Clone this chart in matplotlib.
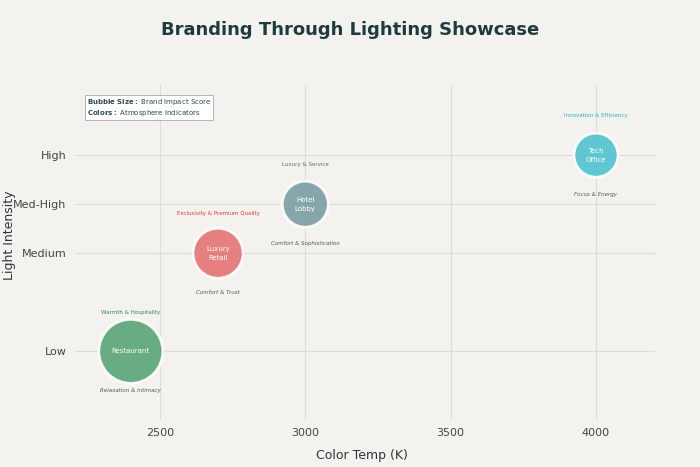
import matplotlib.pyplot as plt

names = ['Restaurant', 'Luxury\nRetail', 'Hotel\nLobby', 'Tech\nOffice']
color_temp = [2400, 2700, 3000, 4000]
intensity = [1, 3, 4, 5]
impact = [32, 25, 23, 22]  # bubble radius in px
colors = ['#5aa578', '#e57373', '#7b9ea4', '#4fc3cf']
top_labels = ['Warmth & Hospitality', 'Exclusivity & Premium Quality', 'Luxury & Service', 'Innovation & Efficiency']
top_colors = ['#2e8b57', '#e53935', '#546e7a', '#26b5c6']
bottom_labels = ['Relaxation & Intimacy', 'Comfort & Trust', 'Comfort & Sophistication', 'Focus & Energy']
ytick_vals = [1, 3, 4, 5]
ytick_labels = ['Low', 'Medium', 'Med-High', 'High']

bg = '#f3f2ee'
fig = plt.figure(figsize=(7, 4.67), dpi=100, facecolor=bg)
ax = fig.add_axes([75/700, 1-420/467, 580/700, 335/467], facecolor=bg)

sizes = [(r * 72 / 100 * 2) ** 2 for r in impact]
ax.scatter(color_temp, intensity, s=sizes, c=colors, alpha=0.9, edgecolors='white', linewidths=2, zorder=3)
for x, y, n, t, tc, b in zip(color_temp, intensity, names, top_labels, top_colors, bottom_labels):
    ax.text(x, y, n, ha='center', va='center', color='white', fontsize=5, zorder=4, linespacing=1.6)
    ax.text(x, y + 0.8, t, ha='center', va='center', color=tc, fontsize=4)
    ax.text(x, y - 0.8, b, ha='center', va='center', color='#555555', fontsize=4, style='italic')

ax.set_xlim(2208, 4203)
ax.set_ylim(-0.4, 6.43)
ax.set_xticks([2500, 3000, 3500, 4000])
ax.set_yticks(ytick_vals)
ax.set_yticklabels(ytick_labels)
ax.grid(True, color='#dcdcd8', linewidth=0.8)
ax.set_axisbelow(True)
for s in ax.spines.values():
    s.set_visible(False)
ax.tick_params(length=0, labelsize=8, colors='#444444', pad=6)
fig.text(362/700, 1-455/467, 'Color Temp (K)', ha='center', va='center', fontsize=9, color='#333333')
fig.text(10/700, 1-235/467, 'Light Intensity', ha='center', va='center', rotation=90,
         fontsize=9, color='#333333')

fig.text(0.5, 1-30/467, 'Branding Through Lighting Showcase', ha='center', va='center',
         fontsize=13, fontweight='bold', color='#1f3b3f')
ax.text(0.02, 0.965, r'$\bf{Bubble\ Size:}$ Brand Impact Score' + '\n' + r'$\bf{Colors:}$ Atmosphere Indicators',
        transform=ax.transAxes, fontsize=5, color='#2d4a50', va='top',
        bbox=dict(boxstyle='square,pad=0.3', fc='white', ec='#aaaaaa', lw=0.6))

fig.savefig('out.png', dpi=100, facecolor=bg)
